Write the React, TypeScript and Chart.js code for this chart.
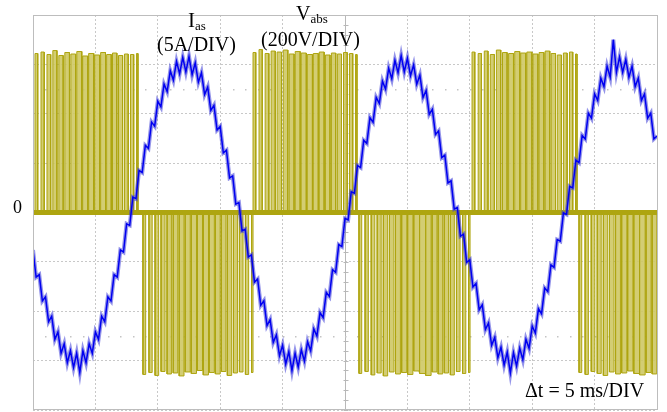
import React, { useEffect, useRef } from 'react';
import { Chart, registerables } from 'chart.js';

Chart.register(...registerables);

// Time axis: 0–50 ms (5 ms/DIV, 10 DIV); vertical: -4..4 DIV
const timeMin = 0;
const timeMax = 50;
const timeStepMs = 5;
const divMin = -4;
const divMax = 4;
const sampleStepMs = 0.25; // current trace sample spacing

// Phase current I_as (in DIV, 5 A/DIV), sampled every 0.25 ms from 0 ms
const currentIas = [
  -0.76, -1.31, -1.26, -1.79, -1.71, -2.21, -2.10, -2.57, -2.42, -2.85,
  -2.66, -3.04, -2.80, -3.14, -2.85, -3.24, -2.80, -3.04, -2.66, -2.85,
  -2.42, -2.57, -2.10, -2.21, -1.71, -1.79, -1.26, -1.31, -0.76, -0.80,
  -0.23, -0.26, 0.31, 0.28, 0.85, 0.81, 1.36, 1.30, 1.83, 1.75,
  2.25, 2.14, 2.60, 2.45, 2.87, 2.68, 3.06, 2.81, 3.14, 2.85,
  3.16, 2.79, 3.03, 2.64, 2.83, 2.39, 2.54, 2.07, 2.17, 1.67,
  1.74, 1.21, 1.26, 0.70, 0.74, 0.17, 0.20, -0.37, -0.34, -0.90,
  -0.86, -1.41, -1.35, -1.88, -1.79, -2.29, -2.17, -2.63, -2.48, -2.90,
  -2.69, -3.07, -2.82, -3.20, -2.85, -3.13, -2.78, -3.01, -2.62, -2.80,
  -2.36, -2.50, -2.03, -2.13, -1.62, -1.70, -1.16, -1.21, -0.65, -0.69,
  -0.12, -0.15, 0.42, 0.39, 0.95, 0.91, 1.46, 1.40, 1.92, 1.83,
  2.33, 2.21, 2.66, 2.50, 2.92, 2.71, 3.08, 2.83, 3.18, 2.85,
  3.12, 2.77, 2.99, 2.60, 2.78, 2.33, 2.47, 1.99, 2.09, 1.58,
  1.65, 1.11, 1.16, 0.60, 0.64, 0.07, 0.10, -0.48, -0.44, -1.01,
  -0.96, -1.51, -1.44, -1.97, -1.87, -2.37, -2.24, -2.69, -2.53, -2.94,
  -2.73, -3.09, -2.83, -3.25, -2.84, -3.11, -2.75, -2.98, -2.57, -2.75,
  -2.30, -2.44, -1.95, -2.05, -1.53, -1.60, -1.06, -1.11, -0.55, -0.58,
  -0.01, -0.04, 0.53, 0.50, 1.06, 1.01, 1.56, 1.49, 2.01, 1.91,
  2.40, 2.27, 2.72, 2.55, 2.96, 2.74, 3.50, 2.84, 3.15, 2.84,
  3.10, 2.74, 2.96, 2.55, 2.72, 2.27, 2.40, 1.91, 2.01, 1.49,
  1.55,
];

// Voltage V_abs PWM pulses (200 V/DIV): [start ms, width ms, level DIV]
const pulsesPos1 = [
  [0.16, 0.22, 3.22], [0.64, 0.26, 3.25], [1.12, 0.30, 3.20], [1.59, 0.33, 3.28],
  [2.07, 0.35, 3.18], [2.55, 0.37, 3.24], [3.03, 0.39, 3.21], [3.51, 0.40, 3.26],
  [3.98, 0.41, 3.17], [4.46, 0.41, 3.22], [4.94, 0.40, 3.19], [5.42, 0.39, 3.24],
  [5.90, 0.37, 3.20], [6.37, 0.35, 3.23], [6.85, 0.33, 3.18], [7.33, 0.30, 3.21],
  [7.81, 0.26, 3.20], [8.29, 0.12, 3.22],
];
const pulsesNeg1 = [
  [8.81, 0.22, -3.28], [9.29, 0.26, -3.24], [9.78, 0.29, -3.30], [10.26, 0.32, -3.22],
  [10.74, 0.35, -3.27], [11.23, 0.37, -3.25], [11.71, 0.39, -3.31], [12.19, 0.41, -3.23],
  [12.68, 0.42, -3.26], [13.16, 0.42, -3.20], [13.64, 0.42, -3.29], [14.12, 0.41, -3.24],
  [14.61, 0.39, -3.27], [15.09, 0.37, -3.22], [15.57, 0.35, -3.30], [16.06, 0.32, -3.25],
  [16.54, 0.29, -3.23], [17.02, 0.26, -3.28], [17.51, 0.12, -3.24],
];
const pulsesPos2 = [
  [17.63, 0.22, 3.24], [18.11, 0.26, 3.30], [18.60, 0.30, 3.22], [19.08, 0.33, 3.27],
  [19.56, 0.35, 3.25], [20.05, 0.37, 3.29], [20.53, 0.39, 3.21], [21.01, 0.40, 3.26],
  [21.49, 0.41, 3.23], [21.98, 0.41, 3.20], [22.46, 0.40, 3.22], [22.94, 0.39, 3.25],
  [23.43, 0.37, 3.19], [23.91, 0.35, 3.23], [24.39, 0.33, 3.21], [24.88, 0.30, 3.24],
  [25.36, 0.26, 3.22], [25.84, 0.12, 3.20],
];
const pulsesNeg2 = [
  [26.12, 0.22, -3.26], [26.61, 0.26, -3.22], [27.10, 0.29, -3.29], [27.58, 0.32, -3.25],
  [28.07, 0.35, -3.31], [28.56, 0.37, -3.23], [29.05, 0.39, -3.27], [29.54, 0.41, -3.24],
  [30.02, 0.42, -3.28], [30.51, 0.42, -3.21], [31.00, 0.42, -3.26], [31.49, 0.41, -3.30],
  [31.98, 0.39, -3.23], [32.46, 0.37, -3.27], [32.95, 0.35, -3.25], [33.44, 0.32, -3.29],
  [33.93, 0.29, -3.22], [34.42, 0.26, -3.26], [34.90, 0.12, -3.24],
];
const pulsesPos3 = [
  [35.18, 0.22, 3.25], [35.67, 0.26, 3.22], [36.16, 0.30, 3.27], [36.64, 0.33, 3.20],
  [37.13, 0.35, 3.29], [37.62, 0.37, 3.24], [38.11, 0.39, 3.22], [38.60, 0.40, 3.26],
  [39.08, 0.41, 3.23], [39.57, 0.41, 3.25], [40.06, 0.40, 3.21], [40.55, 0.39, 3.24],
  [41.04, 0.37, 3.27], [41.52, 0.35, 3.22], [42.01, 0.33, 3.19], [42.50, 0.30, 3.23],
  [42.99, 0.26, 3.25], [43.47, 0.12, 3.21],
];
const pulsesNeg3 = [
  [43.75, 0.22, -3.24], [44.24, 0.26, -3.28], [44.73, 0.29, -3.22], [45.21, 0.32, -3.26],
  [45.70, 0.35, -3.30], [46.19, 0.37, -3.23], [46.68, 0.39, -3.27], [47.17, 0.41, -3.25],
  [47.65, 0.42, -3.21], [48.14, 0.42, -3.26], [48.63, 0.42, -3.29], [49.12, 0.41, -3.24],
  [49.61, 0.37, -3.27],
];

const voltageColor = '#aea510';
const voltageFill = 'rgba(206, 200, 100, 0.9)';
const currentColor = '#0000f0';
const currentHalo = 'rgba(60, 60, 215, 0.55)';
const gridColor = '#c8c8c8';

const framePlugin = {
  id: 'scopeFrame',
  beforeDatasetsDraw(chart: any) {
    const { ctx, chartArea: a, scales } = chart;
    const x = scales.x;
    const y = scales.y;
    ctx.save();
    const cx = Math.round(x.getPixelForValue(25)) + 0.5;
    ctx.strokeStyle = '#b8b8b8';
    ctx.lineWidth = 1;
    ctx.beginPath();
    ctx.moveTo(cx, a.top);
    ctx.lineTo(cx, a.bottom);
    for (let v = divMin; v <= divMax + 1e-6; v += 0.2) {
      const py = Math.round(y.getPixelForValue(v)) + 0.5;
      ctx.moveTo(cx - 2, py);
      ctx.lineTo(cx + 3, py);
    }
    ctx.stroke();
    ctx.fillStyle = '#c4c4c4';
    [2.5, -2.5].forEach((lv) => {
      const py = Math.round(y.getPixelForValue(lv));
      for (let t = 1; t < timeMax; t += 1) {
        const px = Math.round(x.getPixelForValue(t));
        ctx.fillRect(px, py, 1.5, 1.5);
      }
    });
    ctx.restore();
  },
  afterDraw(chart: any) {
    const { ctx, chartArea: a } = chart;
    ctx.save();
    ctx.strokeStyle = '#bdbdbd';
    ctx.lineWidth = 1;
    ctx.strokeRect(Math.round(a.left) + 0.5, Math.round(a.top) + 0.5, Math.round(a.right - a.left), Math.round(a.bottom - a.top) - 1);
    ctx.restore();
  },
};

function pulsePoints(list: number[][]) {
  const pts: { x: number; y: number }[] = [];
  list.forEach(([s, w, h]) => {
    pts.push({ x: s, y: 0 }, { x: s, y: h }, { x: s + w, y: h }, { x: s + w, y: 0 });
  });
  return pts;
}

const serif = '"Liberation Serif", "Times New Roman", serif';

function Label({ left, baseline, size, children }: any) {
  return (
    <div
      style={{
        position: 'absolute',
        left,
        top: baseline - 0.838 * size,
        fontFamily: serif,
        fontSize: size,
        lineHeight: `${size}px`,
        color: '#000',
        whiteSpace: 'nowrap',
      }}
    >
      {children}
    </div>
  );
}

export default function App() {
  const canvasRef = useRef<HTMLCanvasElement | null>(null);

  useEffect(() => {
    const canvas = canvasRef.current;
    if (!canvas) return;
    const currentPts = currentIas.map((v, i) => ({ x: timeMin + i * sampleStepMs, y: v }));
    const voltagePts = [
      { x: timeMin, y: 0 },
      ...pulsePoints(pulsesPos1),
      ...pulsePoints(pulsesNeg1),
      ...pulsePoints(pulsesPos2),
      ...pulsePoints(pulsesNeg2),
      ...pulsePoints(pulsesPos3),
      ...pulsePoints(pulsesNeg3),
      { x: timeMax, y: 0 },
    ];
    const chart = new Chart(canvas, {
      type: 'line',
      data: {
        datasets: [
          {
            label: 'Ias',
            data: currentPts,
            borderColor: currentColor,
            borderWidth: 1.5,
            pointRadius: 0,
            fill: false,
            tension: 0,
          },
          {
            label: 'Ias band',
            data: currentPts,
            borderColor: currentHalo,
            borderWidth: 4,
            pointRadius: 0,
            fill: false,
            tension: 0,
          },
          {
            label: 'Vabs zero',
            data: [
              { x: timeMin, y: 0 },
              { x: timeMax, y: 0 },
            ],
            borderColor: voltageColor,
            borderWidth: 5,
            pointRadius: 0,
            fill: false,
          },
          {
            label: 'Vabs',
            data: voltagePts,
            borderColor: voltageColor,
            backgroundColor: voltageFill,
            borderWidth: 1,
            pointRadius: 0,
            fill: 'origin',
            tension: 0,
          },
        ],
      },
      options: {
        responsive: false,
        animation: false,
        devicePixelRatio: 1,
        layout: { padding: { left: 33, top: 15, right: 10, bottom: 2 } },
        plugins: { legend: { display: false }, tooltip: { enabled: false } },
        scales: {
          x: {
            type: 'linear',
            min: timeMin,
            max: timeMax,
            ticks: { display: false, stepSize: timeStepMs },
            grid: { color: gridColor, drawTicks: false, lineWidth: 1 },
            border: { display: false, dash: [2, 2] },
          },
          y: {
            type: 'linear',
            min: divMin,
            max: divMax,
            ticks: { display: false, stepSize: 1 },
            grid: { color: gridColor, drawTicks: false, lineWidth: 1 },
            border: { display: false, dash: [2, 2] },
          },
        },
      },
      plugins: [framePlugin],
    });
    return () => chart.destroy();
  }, []);

  return (
    <div style={{ position: 'fixed', left: 0, top: 0, width: 667, height: 412, background: '#fff' }}>
      <canvas ref={canvasRef} width={667} height={412} style={{ position: 'absolute', left: 0, top: 0 }} />
      <Label left={188} baseline={28} size={21}>
        I<span style={{ fontSize: 13, position: 'relative', top: 3 }}>as</span>
      </Label>
      <Label left={157} baseline={51} size={20}>(5A/DIV)</Label>
      <Label left={296} baseline={20} size={20}>
        V<span style={{ fontSize: 13, position: 'relative', top: 3 }}>abs</span>
      </Label>
      <Label left={261} baseline={46} size={20}>(200V/DIV)</Label>
      <Label left={13} baseline={213} size={18}>0</Label>
      <Label left={525} baseline={397} size={20}>Δt = 5 ms/DIV</Label>
    </div>
  );
}
